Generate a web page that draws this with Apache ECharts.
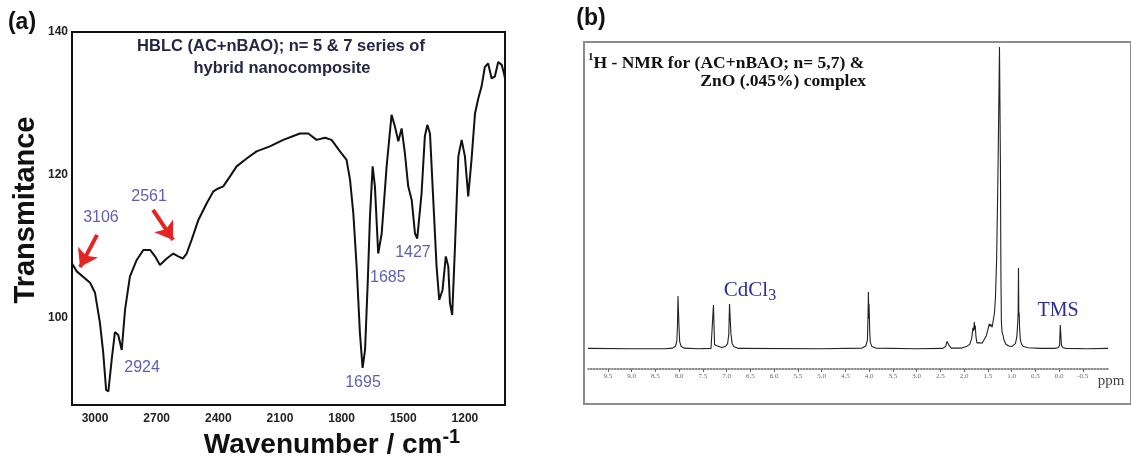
<!DOCTYPE html>
<html><head><meta charset="utf-8">
<script src="https://cdn.jsdelivr.net/npm/echarts@6/dist/echarts.min.js"></script>
<style>html,body{margin:0;padding:0;background:#fff}#c{width:1131px;height:461px}</style>
</head><body><div id="c"></div>
<script>
// ---- Panel (a): FTIR ----
const irWavenumber = [3112,3089,3024,3000,2976,2960,2946,2935,2919,2903,2887,2870,2854,2830,2797,2765,2732,2708,2684,2651,2619,2595,2573,2554,2530,2497,2457,2424,2400,2376,2343,2311,2262,2214,2149,2084,2003,1962,1922,1881,1849,1808,1776,1759,1743,1727,1711,1698,1686,1673,1662,1649,1638,1622,1605,1581,1557,1541,1524,1508,1492,1476,1459,1443,1432,1411,1395,1383,1370,1354,1338,1325,1309,1293,1281,1273,1262,1249,1232,1216,1200,1184,1168,1151,1135,1119,1103,1087,1070,1054,1038,1021,1010,1005];
const irTransmittance = [107.6,106.5,104.9,103.5,99.3,95.1,89.9,89.7,94.1,98.0,97.6,95.5,101.1,105.8,108.1,109.5,109.5,108.6,107.4,108.3,109.0,108.6,108.3,109.0,110.9,113.7,116.0,117.7,118.1,118.4,119.8,121.2,122.3,123.3,124.0,124.9,125.8,125.8,124.9,125.2,124.9,123.3,122.1,119.3,114.6,107.2,97.9,93.0,95.5,104.9,114.2,121.2,118.4,109.0,111.8,121.2,128.4,126.8,124.7,126.5,123.0,118.4,116.5,111.8,111.1,117.4,125.4,127.0,125.8,116.5,107.2,102.5,103.9,108.6,107.2,102.1,100.4,109.5,122.6,124.9,122.6,117.0,122.1,128.6,130.7,132.4,135.1,135.6,133.5,133.8,135.8,135.4,134.2,133.5];
const irXTicks = [3000,2700,2400,2100,1800,1500,1200];
const irYTicks = [100,120,140];
const peakLabels = ['3106','2561','2924','1695','1685','1427'];

// ---- Panel (b): 1H NMR ----
const nmrShift = [9.92,9.0,8.3,8.14,8.08,8.05,8.035,8.025,8.015,8.005,7.99,7.96,7.9,7.6,7.33,7.29,7.278,7.268,7.255,7.23,7.21,7.18,7.1,7.02,6.98,6.955,6.94,6.925,6.91,6.885,6.85,6.75,5.0,4.15,4.07,4.035,4.022,4.015,4.008,4.002,3.995,3.988,3.975,3.94,3.86,3.0,2.45,2.39,2.36,2.345,2.335,2.325,2.31,2.27,2.05,1.95,1.88,1.84,1.815,1.8,1.785,1.775,1.765,1.75,1.73,1.7,1.67,1.645,1.62,1.58,1.53,1.49,1.47,1.455,1.44,1.41,1.39,1.36,1.34,1.315,1.29,1.27,1.255,1.245,1.235,1.225,1.215,1.2,1.185,1.175,1.16,1.12,1.06,1.0,0.96,0.92,0.89,0.87,0.862,0.855,0.848,0.84,0.832,0.815,0.79,0.75,0.65,0.4,0.1,0.02,-0.01,-0.025,-0.035,-0.05,-0.08,-0.15,-0.6,-1.03];
const nmrIntensity = [0.2,0.1,0.1,0.3,0.9,2.5,8,17.5,17.5,8,2.5,0.9,0.3,0.1,0.2,0.6,14.6,14.6,1.5,0.9,1.1,0.8,0.5,0.9,1.8,5,14.9,14.9,5,1.8,0.8,0.2,0.1,0.3,1,3,12,18.9,10,15,11,6,2.2,0.8,0.3,0.1,0.2,0.8,2.5,3.0,2.4,3,1,0.3,0.3,0.8,1.6,3.5,7,6,8.9,6.5,7.8,4,2,1.5,2.1,2.3,1.9,2.4,4.5,7,8.3,7.5,8.2,7.2,7,12,17,30,55,80,100,100,60,25,9,5.5,4.8,5,3,1.6,1,0.8,1,1.8,4,9,12,26.8,11,12,7,3,1.5,0.8,0.4,0.2,0.2,0.4,1.2,7.9,7.9,1.2,0.4,0.2,0.1,0.2];
const nmrTicks = [9.5,9.0,8.5,8.0,7.5,7.0,6.5,6.0,5.5,5.0,4.5,4.0,3.5,3.0,2.5,2.0,1.5,1.0,0.5,0.0,-0.5];

const SANS = 'Liberation Sans';
const SERIF = 'Liberation Serif';
const BLUE = '#3636a0';

const irData = irWavenumber.map((w, i) => [w, irTransmittance[i]]);
const nmrData = nmrShift.map((s, i) => [s, nmrIntensity[i]]);
const labelAnchors = [[2971,114.0],[2737,116.9],[2771,93.1],[1696,91.0],[1575,105.6],[1453,109.1]];

const chart = echarts.init(document.getElementById('c'), null, {renderer: 'canvas'});
chart.setOption({
  animation: false,
  backgroundColor: '#fff',
  grid: [
    {left: 72, top: 32, right: 626, bottom: 56, show: true, borderColor: '#111', borderWidth: 2, backgroundColor: 'transparent'},
    {left: 584, top: 42, right: -10, bottom: 57, show: true, borderColor: '#8c8c8c', borderWidth: 2, backgroundColor: 'transparent'},
    {left: 588, top: 43, right: 23, bottom: 92}
  ],
  xAxis: [
    {gridIndex: 0, type: 'value', inverse: true, min: 1005, max: 3112,
     axisLine: {show: false, onZero: false}, splitLine: {show: false},
     axisTick: {show: false},
     axisLabel: {customValues: irXTicks, formatter: v => String(v), margin: 8, fontFamily: SANS, fontWeight: 'bold', fontSize: 12, color: '#222'}},
    {gridIndex: 1, type: 'value', show: false, min: 0, max: 1},
    {gridIndex: 2, type: 'value', inverse: true, min: -1.03, max: 9.92,
     axisLine: {show: true, onZero: false, lineStyle: {color: '#666', width: 1.5, type: 'dotted'}},
     splitLine: {show: false},
     axisTick: {show: true, customValues: nmrTicks, length: 3, lineStyle: {color: '#666', width: 1}},
     axisLabel: {customValues: nmrTicks, formatter: v => v.toFixed(1), margin: 4, fontFamily: SERIF, fontSize: 7, color: '#666'}}
  ],
  yAxis: [
    {gridIndex: 0, type: 'value', min: 87.8, max: 140,
     axisLine: {show: false, onZero: false}, splitLine: {show: false},
     axisTick: {show: false},
     axisLabel: {customValues: irYTicks, margin: 4, fontFamily: SANS, fontWeight: 'bold', fontSize: 12, color: '#222'}},
    {gridIndex: 1, type: 'value', show: false, min: 0, max: 1},
    {gridIndex: 2, type: 'value', show: false, min: -6.62, max: 101.3}
  ],
  series: [
    {type: 'line', xAxisIndex: 0, yAxisIndex: 0, data: irData, showSymbol: false, smooth: false,
     lineStyle: {color: '#111', width: 2}, silent: true,
     markLine: {silent: true, symbol: ['none', 'arrow'], symbolSize: 17, label: {show: false},
       lineStyle: {color: '#e52421', width: 4, type: 'solid'},
       data: [
         [{coord: [2990, 111.6]}, {coord: [3073, 107.1]}],
         [{coord: [2718, 115.1]}, {coord: [2620, 110.9]}]
       ]}},
    {type: 'scatter', xAxisIndex: 0, yAxisIndex: 0, symbolSize: 0, silent: true,
     data: peakLabels.map((t, i) => ({name: t, value: labelAnchors[i]})),
     label: {show: true, position: 'inside', formatter: p => p.name, fontFamily: SANS, fontSize: 16, color: BLUE}},
    {type: 'line', xAxisIndex: 2, yAxisIndex: 2, data: nmrData, showSymbol: false, smooth: false,
     lineStyle: {color: '#222', width: 1.1}, silent: true}
  ],
  graphic: [
    {type: 'text', style: {text: '(a)', x: 22, y: 23, align: 'center', verticalAlign: 'middle', font: 'bold 23px ' + SANS, fill: '#111'}},
    {type: 'text', style: {text: '(b)', x: 591, y: 19, align: 'center', verticalAlign: 'middle', font: 'bold 23px ' + SANS, fill: '#111'}},
    {type: 'text', style: {text: 'HBLC (AC+nBAO); n= 5 & 7 series of', x: 281, y: 46, align: 'center', verticalAlign: 'middle', font: 'bold 16.5px ' + SANS, fill: '#262645'}},
    {type: 'text', style: {text: 'hybrid nanocomposite', x: 282, y: 68, align: 'center', verticalAlign: 'middle', font: 'bold 16.5px ' + SANS, fill: '#262645'}},
    {type: 'text', x: 26, y: 210, rotation: Math.PI / 2, style: {text: 'Transmitance', x: 0, y: 0, align: 'center', verticalAlign: 'middle', font: 'bold 29px ' + SANS, fill: '#111'}},
    {type: 'text', style: {text: '{a|Wavenumber / cm}{b|-1}', x: 332, y: 443, align: 'center', verticalAlign: 'middle',
      rich: {a: {fontFamily: SANS, fontWeight: 'bold', fontSize: 28, lineHeight: 32, verticalAlign: 'bottom', fill: '#111'},
             b: {fontFamily: SANS, fontWeight: 'bold', fontSize: 20, lineHeight: 20, verticalAlign: 'top', fill: '#111'}}}},
    {type: 'text', style: {text: '{s|1}{t|H - NMR for (AC+nBAO; n= 5,7) &}', x: 588, y: 62, align: 'left', verticalAlign: 'middle',
      rich: {s: {fontFamily: SERIF, fontWeight: 'bold', fontSize: 11, lineHeight: 11, verticalAlign: 'top', fill: '#111'},
             t: {fontFamily: SERIF, fontWeight: 'bold', fontSize: 17.5, lineHeight: 20, verticalAlign: 'bottom', fill: '#111'}}}},
    {type: 'text', style: {text: 'ZnO (.045%) complex', x: 866, y: 81, align: 'right', verticalAlign: 'middle', font: 'bold 17.5px ' + SERIF, fill: '#111'}},
    {type: 'text', style: {text: '{a|CdCl}{b|3}', x: 750, y: 292, align: 'center', verticalAlign: 'middle',
      rich: {a: {fontFamily: SERIF, fontSize: 21, lineHeight: 24, verticalAlign: 'top', fill: '#2b2b9b'},
             b: {fontFamily: SERIF, fontSize: 16, lineHeight: 16, verticalAlign: 'bottom', fill: '#2b2b9b'}}}},
    {type: 'text', style: {text: 'TMS', x: 1058, y: 311, align: 'center', verticalAlign: 'middle', font: '20px ' + SERIF, fill: '#2b2b9b'}},
    {type: 'text', style: {text: 'ppm', x: 1111, y: 381, align: 'center', verticalAlign: 'middle', font: '15px ' + SERIF, fill: '#444'}}
  ]
});
</script></body></html>
